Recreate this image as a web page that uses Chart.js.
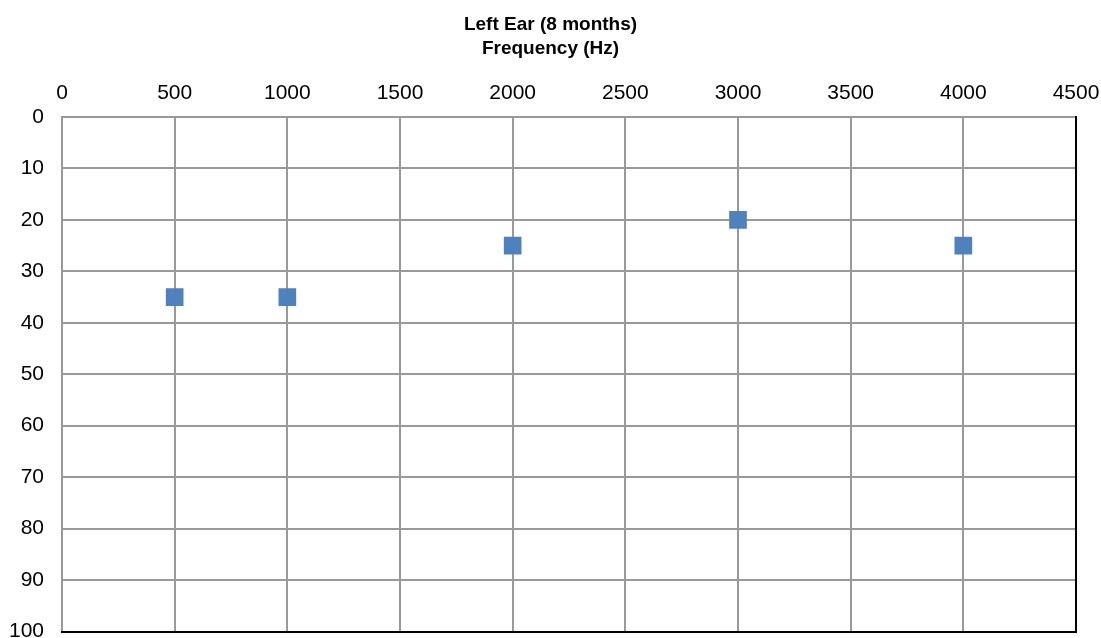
<!DOCTYPE html>
<html lang="en">
  <head>
    <meta charset="UTF-8" />
    <title>Left Ear (8 months)</title>
    <style>
      html, body { margin: 0; padding: 0; background: #fff; overflow: hidden; }
      #wrap { position: relative; width: 1101px; height: 644px; }
    </style>
  </head>
  <body>
    <div id="wrap"><canvas id="chart"></canvas></div>

    <script src="https://cdn.jsdelivr.net/npm/chart.js"></script>
<script>
      // 周波数 (Hz) と 聴力レベル (dB)
      const frequencies = [500, 1000, 2000, 3000, 4000];
      const levels = [35, 35, 25, 20, 25];
      const titleLines = ['Left Ear (8 months)', 'Frequency (Hz)'];

      const points = frequencies.map((f, i) => ({ x: f, y: levels[i] }));
      const gridColor = '#999999';
      const fontFamily = 'Liberation Sans, Arial, sans-serif';

      const ctx = document.getElementById('chart').getContext('2d');
      new Chart(ctx, {
        type: 'scatter',
        data: {
          datasets: [{
            data: points,
            pointStyle: 'rect',
            pointRadius: 12.5,
            pointHoverRadius: 12.5,
            backgroundColor: '#4F81BD',
            borderColor: '#4F81BD',
            borderWidth: 0
          }]
        },
        options: {
          responsive: true,
          maintainAspectRatio: false,
          animation: false,
          layout: { padding: 0 },
          plugins: {
            legend: { display: false },
            tooltip: { enabled: false },
            title: {
              display: true,
              text: titleLines,
              color: '#000',
              font: { family: fontFamily, size: 19, weight: 'bold', lineHeight: 1.263 },
              padding: { top: 13, bottom: 0 }
            }
          },
          scales: {
            x: {
              type: 'linear',
              position: 'top',
              min: 0,
              max: 4500,
              afterFit: (scale) => {
                scale.height = 56;
                scale.paddingLeft = 0;
                scale.paddingRight = 0;
              },
              ticks: {
                stepSize: 500,
                color: '#000',
                padding: 11,
                font: { family: fontFamily, size: 21 },
                callback: (v) => String(v)
              },
              grid: { color: gridColor, lineWidth: 2, drawTicks: false },
              border: { color: gridColor, width: 2 }
            },
            y: {
              type: 'linear',
              reverse: true,
              min: 0,
              max: 100,
              afterFit: (scale) => {
                scale.width = 62;
                scale.paddingTop = 0;
                scale.paddingBottom = 0;
              },
              ticks: {
                stepSize: 10,
                color: '#000',
                padding: 18,
                font: { family: fontFamily, size: 21 },
                callback: (v) => String(v)
              },
              grid: { color: gridColor, lineWidth: 2, drawTicks: false },
              border: { color: gridColor, width: 2 }
            },
            // 下と右の黒い枠線
            xb: {
              type: 'linear',
              position: 'bottom',
              min: 0,
              max: 4500,
              afterFit: (scale) => { scale.height = 0; },
              ticks: { display: false },
              grid: { display: false, drawTicks: false },
              border: { color: '#000', width: 2 }
            },
            yr: {
              type: 'linear',
              position: 'right',
              min: 0,
              max: 100,
              afterFit: (scale) => { scale.width = 25; },
              ticks: { display: false },
              grid: { display: false, drawTicks: false },
              border: { color: '#000', width: 2 }
            }
          }
        }
      });
      </script>
  </body>
</html>
